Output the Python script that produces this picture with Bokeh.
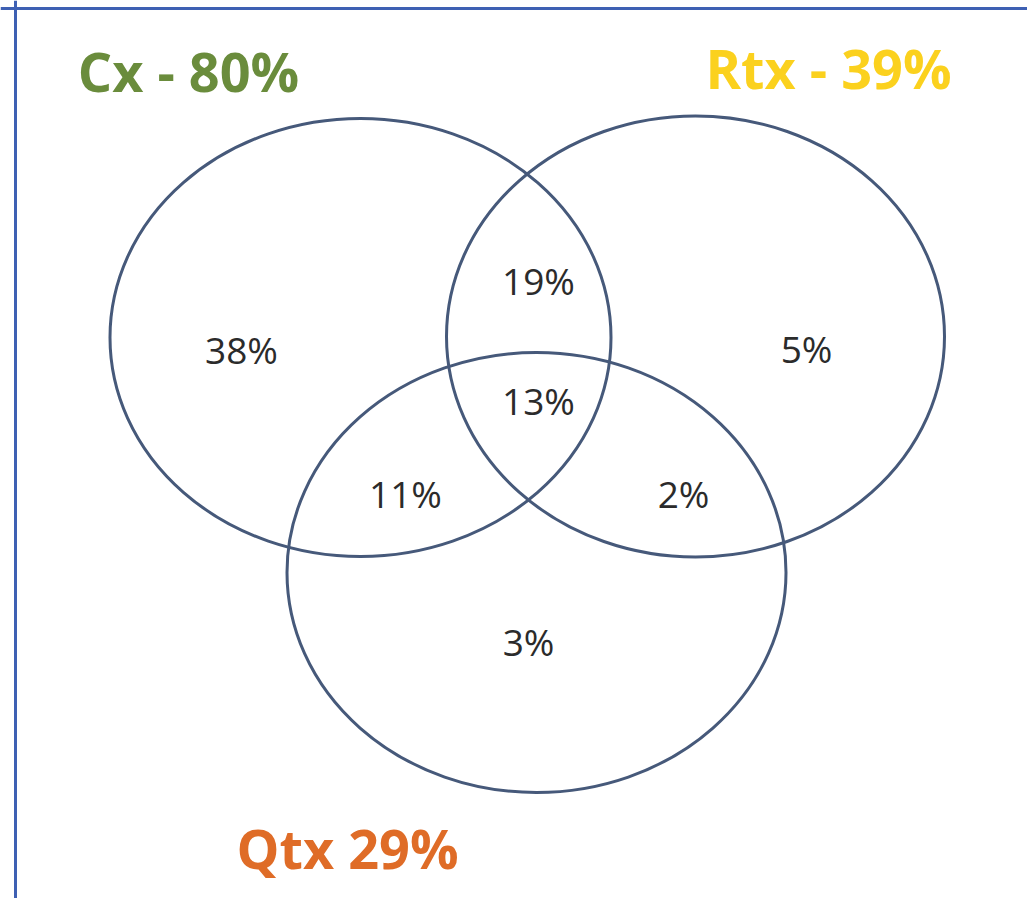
from bokeh.plotting import figure
from bokeh.models import Range1d, Span, ColumnDataSource
from bokeh.core.properties import value
from bokeh.embed import file_html
from bokeh.resources import INLINE

# ---- data ----
set_names = ["Cx", "Rtx", "Qtx"]
set_pcts = [80, 39, 29]
set_label_fmt = ["{} - {}%", "{} - {}%", "{} {}%"]
region_names = ["Cx only", "Cx∩Rtx", "Rtx only", "Cx∩Rtx∩Qtx", "Cx∩Qtx", "Rtx∩Qtx", "Qtx only"]
region_pcts = [38, 19, 5, 13, 11, 2, 3]

# ---- layout (pixel space) ----
W, H = 1027, 898
ell_x = [360, 695, 536]
ell_y = [337, 336, 572]
ell_w = [501, 498, 499]
ell_h = [438, 441, 440]
set_lbl_x = [188, 828, 347]
set_lbl_y = [70, 67, 847]
set_colors = ["#6a8c3c", "#fbd11e", "#df6c27"]
reg_x = [241, 538, 806, 538, 405, 683, 528]
reg_y = [349, 280, 348, 400, 493, 493, 641]

p = figure(width=W, height=H, x_range=Range1d(0, W), y_range=Range1d(H, 0),
           output_backend="svg", toolbar_location=None, min_border=0)
p.axis.visible = False
p.grid.visible = False
p.outline_line_color = None
p.background_fill_color = "white"
p.border_fill_color = "white"

# frame border (left and top visible)
p.add_layout(Span(location=15, dimension="height", line_color="#3e60b3", line_width=3))
p.add_layout(Span(location=8, dimension="width", line_color="#3e60b3", line_width=3))

ell_src = ColumnDataSource(dict(x=ell_x, y=ell_y, w=ell_w, h=ell_h, name=set_names))
p.ellipse(x="x", y="y", width="w", height="h", source=ell_src,
          fill_color=None, line_color="#46597a", line_width=3)

reg_src = ColumnDataSource(dict(x=reg_x, y=reg_y,
                                t=[f"{v}%" for v in region_pcts], name=region_names))
p.text(x="x", y="y", text="t", source=reg_src, text_align="center",
       text_baseline="middle", text_font=value("Open Sans"),
       text_font_size="37px", text_color="#2b2b2b")

set_src = ColumnDataSource(dict(x=set_lbl_x, y=set_lbl_y,
                                t=[f.format(n, v) for f, n, v in zip(set_label_fmt, set_names, set_pcts)],
                                c=set_colors))
p.text(x="x", y="y", text="t", source=set_src, text_align="center",
       text_baseline="middle", text_font=value("Open Sans"), text_font_style="bold",
       text_font_size="54px", text_color="c")

open("out.html", "w").write(file_html(p, INLINE))
